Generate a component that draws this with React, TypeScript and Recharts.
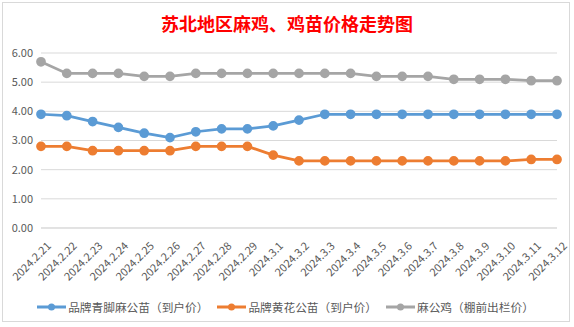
import { LineChart, Line, XAxis, YAxis, CartesianGrid, Legend } from 'recharts';

const dates = [
  '2024.2.21', '2024.2.22', '2024.2.23', '2024.2.24', '2024.2.25', '2024.2.26', '2024.2.27',
  '2024.2.28', '2024.2.29', '2024.3.1', '2024.3.2', '2024.3.3', '2024.3.4', '2024.3.5',
  '2024.3.6', '2024.3.7', '2024.3.8', '2024.3.9', '2024.3.10', '2024.3.11', '2024.3.12',
];

const qingjiao = [3.9, 3.85, 3.65, 3.45, 3.25, 3.1, 3.3, 3.4, 3.4, 3.5, 3.7, 3.9, 3.9, 3.9, 3.9, 3.9, 3.9, 3.9, 3.9, 3.9, 3.9];
const huanghua = [2.8, 2.8, 2.65, 2.65, 2.65, 2.65, 2.8, 2.8, 2.8, 2.5, 2.3, 2.3, 2.3, 2.3, 2.3, 2.3, 2.3, 2.3, 2.3, 2.35, 2.35];
const magongji = [5.7, 5.3, 5.3, 5.3, 5.2, 5.2, 5.3, 5.3, 5.3, 5.3, 5.3, 5.3, 5.3, 5.2, 5.2, 5.2, 5.1, 5.1, 5.1, 5.05, 5.05];

const yTicks = [0, 1, 2, 3, 4, 5, 6];

const seriesNames = ['品牌青脚麻公苗（到户价）', '品牌黄花公苗（到户价）', '麻公鸡（棚前出栏价）'];
const colors = ['#5B9BD5', '#ED7D31', '#A5A5A5'];

const data = dates.map((d, i) => ({
  date: d,
  a: qingjiao[i],
  b: huanghua[i],
  c: magongji[i],
}));

const font = '"Microsoft YaHei", "Noto Sans CJK SC", "Noto Sans", sans-serif';

function DateTick({ x, y, payload }: any) {
  return (
    <g transform={`translate(${x + 8},${y + 8})`}>
      <text
        textAnchor="end"
        dy="0.35em"
        transform="rotate(-45)"
        fontSize={11}
        fill="#595959"
        fontFamily={font}
      >
        {payload.value}
      </text>
    </g>
  );
}

function LegendContent() {
  return (
    <div style={{ display: 'flex', justifyContent: 'center', fontFamily: font, fontSize: 11.7, color: '#595959', gap: 9, height: 18, lineHeight: '18px', paddingLeft: 14 }}>
      {seriesNames.map((n, i) => (
        <div key={n} style={{ display: 'flex', alignItems: 'center' }}>
          <svg width={29} height={10} style={{ marginRight: 2 }}>
            <line x1={0} y1={5} x2={29} y2={5} stroke={colors[i]} strokeWidth={3} />
            <circle cx={14.5} cy={5} r={3.5} fill={colors[i]} />
          </svg>
          <span>{n}</span>
        </div>
      ))}
    </div>
  );
}

export default function App() {
  return (
    <div style={{ position: 'absolute', left: 0, top: 0, width: 574, height: 327, background: '#fff' }}>
      <div
        style={{
          position: 'absolute', left: 2, top: 2, width: 568, height: 320,
          border: '1px solid #d9d9d9', boxSizing: 'border-box',
        }}
      />
      <div
        style={{
          position: 'absolute', left: 0, top: 10, width: 574, textAlign: 'center',
          color: '#FF0000', fontSize: 18, fontWeight: 'bold',
          fontFamily: '"SimSun", "Noto Sans CJK SC", serif',
        }}
      >
        苏北地区麻鸡、鸡苗价格走势图
      </div>
      <LineChart
        width={574}
        height={327}
        data={data}
        margin={{ top: 53, right: 17, left: 0, bottom: 11 }}
        style={{ position: 'absolute', left: 0, top: 0 }}
      >
        <CartesianGrid vertical={false} stroke="#d9d9d9" />
        <XAxis
          dataKey="date"
          interval={0}
          axisLine={{ stroke: '#d9d9d9' }}
          tickLine={false}
          tick={<DateTick />}
          height={70}
        />
        <YAxis
          width={41}
          domain={[0, 6]}
          ticks={yTicks}
          axisLine={false}
          tickLine={false}
          tickFormatter={(v: number) => v.toFixed(2)}
          tick={{ fontSize: 11, fill: '#595959', fontFamily: font }}
        />
        <Legend verticalAlign="bottom" height={18} content={<LegendContent />} />
        <Line dataKey="a" name={seriesNames[0]} stroke={colors[0]} strokeWidth={2.75}
          dot={{ r: 3.5, fill: colors[0], stroke: colors[0] }} isAnimationActive={false} />
        <Line dataKey="b" name={seriesNames[1]} stroke={colors[1]} strokeWidth={2.75}
          dot={{ r: 3.5, fill: colors[1], stroke: colors[1] }} isAnimationActive={false} />
        <Line dataKey="c" name={seriesNames[2]} stroke={colors[2]} strokeWidth={2.75}
          dot={{ r: 3.5, fill: colors[2], stroke: colors[2] }} isAnimationActive={false} />
      </LineChart>
    </div>
  );
}
